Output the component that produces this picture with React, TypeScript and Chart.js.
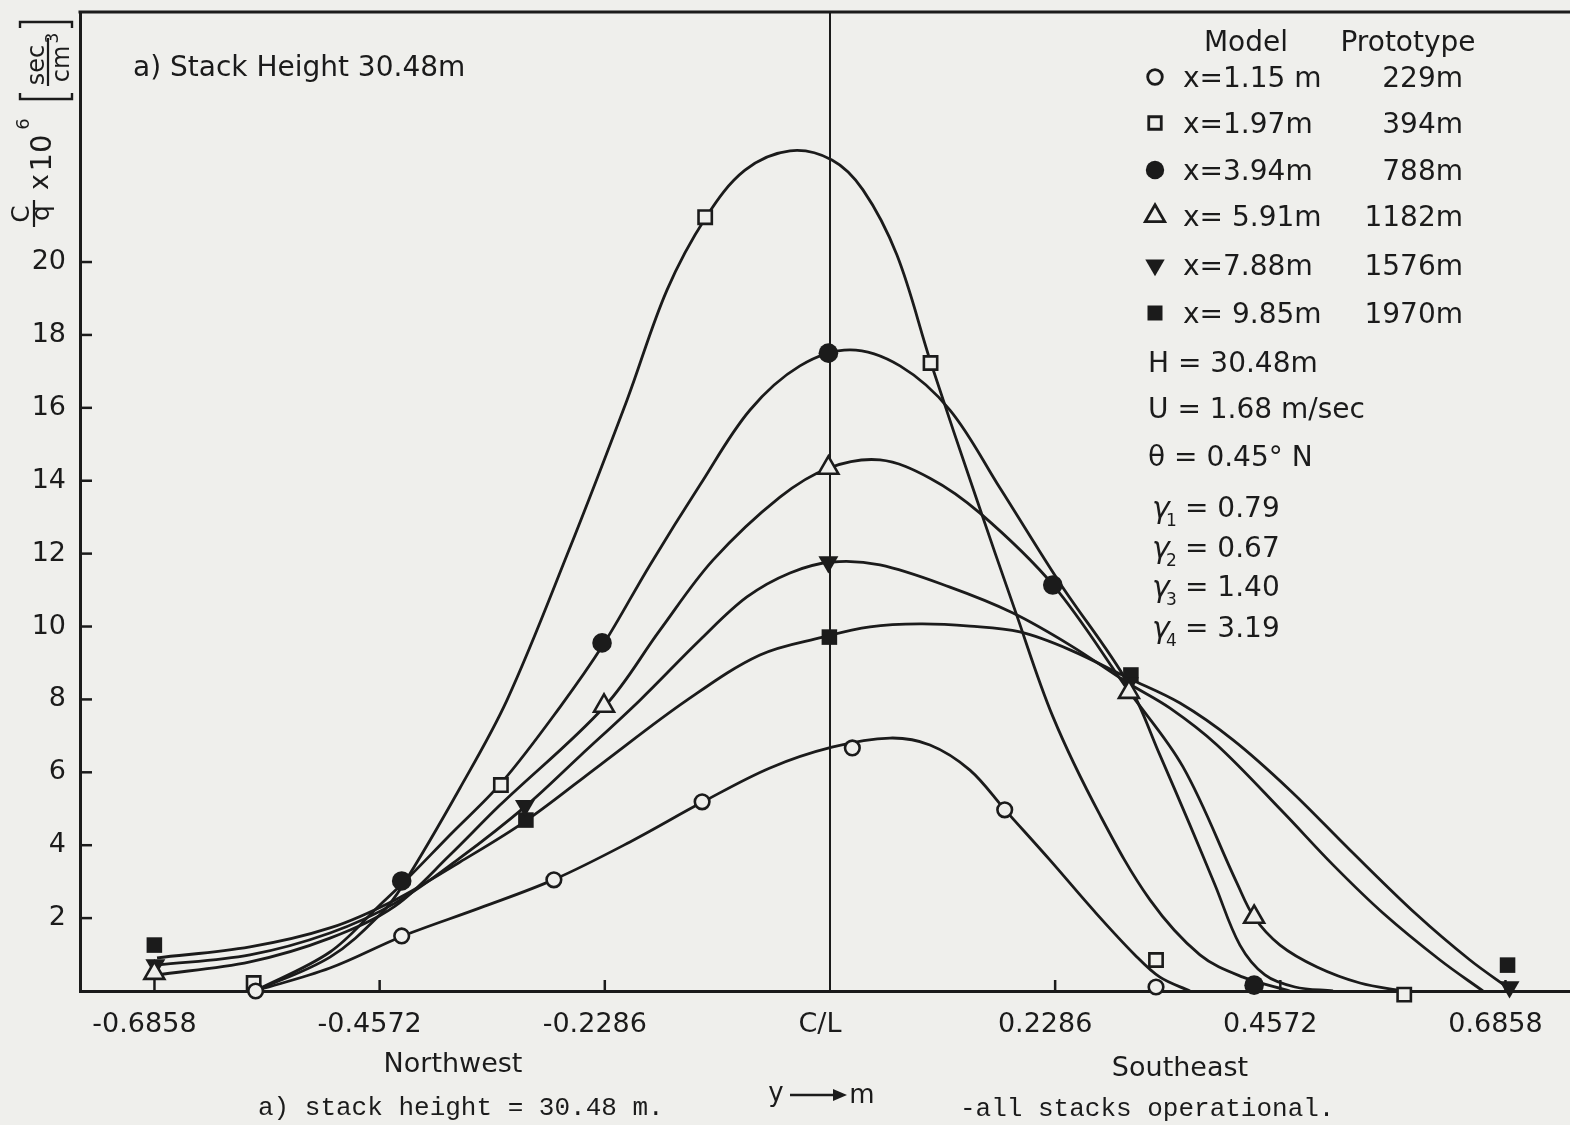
import React, { useEffect, useRef } from 'react';
import { Chart, registerables } from 'chart.js';

Chart.register(...registerables);

const INK = '#1b1b1b';
const PAPER = '#efefec';
const SANS = '"DejaVu Sans", sans-serif';
const MONO = '"Liberation Mono", monospace';

// ---- axes ----
const X_MIN = -0.7614;
const X_MAX = 0.7513;
const Y_MIN = 0;
const Y_MAX = 26.86;
const xTickValues = [-0.6858, -0.4572, -0.2286, 0, 0.2286, 0.4572, 0.6858];
const xTickLabels = ['-0.6858', '-0.4572', '-0.2286', 'C/L', '0.2286', '0.4572', '0.6858'];
const yTickValues = [2, 4, 6, 8, 10, 12, 14, 16, 18, 20];

// ---- legend text ----
const modelLabels = ['x=1.15 m', 'x=1.97m', 'x=3.94m', 'x= 5.91m', 'x=7.88m', 'x= 9.85m'];
const prototypeLabels = ['229m', '394m', '788m', '1182m', '1576m', '1970m'];
const parameterLines = ['H = 30.48m', 'U = 1.68 m/sec', 'θ = 0.45° N'];
const gammaSubs = ['1', '2', '3', '4'];
const gammaValues = ['0.79', '0.67', '1.40', '3.19'];

// ---- measured points (markers) ----
const m115X = [-0.5831, -0.4348, -0.2803, -0.1298, 0.0227, 0.1774, 0.331];
const m115Y = [0.0, 1.51, 3.05, 5.19, 6.67, 4.97, 0.11];
const m197X = [-0.5851, -0.3341, -0.1267, 0.1021, 0.331, 0.583];
const m197Y = [0.22, 5.65, 21.23, 17.23, 0.85, -0.1];
const m394X = [-0.4348, -0.2314, -0.0016, 0.2262, 0.4306];
const m394Y = [3.02, 9.55, 17.5, 11.14, 0.16];
const m591X = [-0.6859, -0.2294, -0.0016, 0.3035, 0.4306];
const m591Y = [0.49, 7.82, 14.35, 8.2, 2.03];
const m788X = [-0.6849, -0.3097, -0.0016, 0.3035, 0.6899];
const m788Y = [0.71, 5.08, 11.77, 8.45, 0.11];
const m985X = [-0.6859, -0.3087, -0.0006, 0.3055, 0.6879];
const m985Y = [1.26, 4.69, 9.71, 8.67, 0.71];

// ---- faired curves ----
const c115X = [-0.5838, -0.5076, -0.4335, -0.3553, -0.2792, -0.203, -0.1289, -0.0609, 0.002, 0.0609, 0.1015, 0.1421, 0.1777, 0.2234, 0.269, 0.3096, 0.335, 0.3655];
const c115Y = [0, 0.63, 1.51, 2.28, 3.07, 4.09, 5.19, 6.12, 6.69, 6.94, 6.75, 6.06, 4.97, 3.59, 2.17, 0.99, 0.38, 0];
const c197X = [-0.5838, -0.5076, -0.4569, -0.4335, -0.3756, -0.3279, -0.267, -0.2061, -0.1655, -0.1259, -0.0863, -0.0406, 0.002, 0.0335, 0.068, 0.1025, 0.1492, 0.1878, 0.2264, 0.2741, 0.3249, 0.3756, 0.4193, 0.467];
const c197Y = [0, 0.93, 2.09, 2.91, 5.57, 7.98, 11.96, 16.21, 19.23, 21.23, 22.52, 23.05, 22.8, 21.98, 20.19, 17.23, 13.47, 10.45, 7.52, 4.83, 2.5, 0.99, 0.38, 0];
const c394X = [-0.5838, -0.5076, -0.4569, -0.4335, -0.3858, -0.333, -0.2741, -0.2305, -0.1827, -0.132, -0.0812, -0.0305, 0.0203, 0.0711, 0.1218, 0.1726, 0.2335, 0.3025, 0.335, 0.3655, 0.3909, 0.4162, 0.4416, 0.4721, 0.5107];
const c394Y = [0, 1.07, 2.36, 2.96, 4.28, 5.73, 7.79, 9.49, 11.69, 13.88, 15.94, 17.15, 17.59, 17.15, 15.94, 13.8, 11.19, 8.45, 6.47, 4.55, 2.91, 1.26, 0.44, 0.11, 0];
const c591X = [-0.6843, -0.5888, -0.5076, -0.4416, -0.3858, -0.335, -0.2284, -0.1726, -0.1188, -0.0508, -0.001, 0.0508, 0.1015, 0.1523, 0.2264, 0.3025, 0.3584, 0.4132, 0.4305, 0.4569, 0.4944, 0.5381, 0.5817];
const c591Y = [0.44, 0.8, 1.45, 2.33, 3.73, 5.1, 7.82, 9.9, 11.82, 13.55, 14.35, 14.57, 14.07, 13.11, 11.14, 8.26, 6.15, 2.96, 2.03, 1.26, 0.66, 0.22, 0];
const c788X = [-0.6832, -0.5888, -0.5076, -0.4416, -0.3756, -0.3086, -0.2538, -0.1929, -0.132, -0.0843, -0.0406, 0.002, 0.0508, 0.1218, 0.1858, 0.2437, 0.3025, 0.3452, 0.3929, 0.4599, 0.5107, 0.5614, 0.6193, 0.6629];
const c788Y = [0.71, 0.99, 1.59, 2.41, 3.65, 5.08, 6.45, 7.98, 9.63, 10.81, 11.47, 11.77, 11.69, 11.08, 10.37, 9.49, 8.45, 7.76, 6.75, 4.91, 3.46, 2.14, 0.85, 0];
const c985X = [-0.6832, -0.5888, -0.5076, -0.4416, -0.3756, -0.3076, -0.2335, -0.1452, -0.0711, -0.0071, 0.0406, 0.0914, 0.1421, 0.1929, 0.2437, 0.3025, 0.3553, 0.4091, 0.467, 0.5279, 0.5959, 0.6497, 0.6904];
const c985Y = [0.91, 1.21, 1.73, 2.5, 3.54, 4.69, 6.2, 7.98, 9.22, 9.71, 9.99, 10.07, 10.01, 9.85, 9.36, 8.59, 7.9, 6.89, 5.51, 3.87, 2.09, 0.85, 0.05];

type Kind = 'circleOpen' | 'squareOpen' | 'circleFilled' | 'triangleOpen' | 'triangleDownFilled' | 'squareFilled';
const kinds: Kind[] = ['circleOpen', 'squareOpen', 'circleFilled', 'triangleOpen', 'triangleDownFilled', 'squareFilled'];
const markerXs = [m115X, m197X, m394X, m591X, m788X, m985X];
const markerYs = [m115Y, m197Y, m394Y, m591Y, m788Y, m985Y];
const curveXs = [c115X, c197X, c394X, c591X, c788X, c985X];
const curveYs = [c115Y, c197Y, c394Y, c591Y, c788Y, c985Y];

const pts = (xs: number[], ys: number[]) => xs.map((x, i) => ({ x, y: ys[i] }));

const styleFor = (k: Kind) => {
  switch (k) {
    case 'circleOpen': return { pointStyle: 'circle', pointRadius: 7.3, pointBackgroundColor: PAPER, pointBorderWidth: 2.6, pointRotation: 0 };
    case 'squareOpen': return { pointStyle: 'rect', pointRadius: 9.4, pointBackgroundColor: PAPER, pointBorderWidth: 2.6, pointRotation: 0 };
    case 'circleFilled': return { pointStyle: 'circle', pointRadius: 9.8, pointBackgroundColor: INK, pointBorderWidth: 0, pointRotation: 0 };
    case 'triangleOpen': return { pointStyle: 'triangle', pointRadius: 11.5, pointBackgroundColor: PAPER, pointBorderWidth: 2.6, pointRotation: 0 };
    case 'triangleDownFilled': return { pointStyle: 'triangle', pointRadius: 11.5, pointBackgroundColor: INK, pointBorderWidth: 0, pointRotation: 180 };
    default: return { pointStyle: 'rect', pointRadius: 11, pointBackgroundColor: INK, pointBorderWidth: 0, pointRotation: 0 };
  }
};

function drawMarker(ctx: CanvasRenderingContext2D, k: Kind, x: number, y: number) {
  ctx.save();
  ctx.lineWidth = 2.8;
  ctx.strokeStyle = INK;
  ctx.beginPath();
  if (k === 'circleOpen' || k === 'circleFilled') {
    ctx.arc(x, y, k === 'circleOpen' ? 7.3 : 9.2, 0, Math.PI * 2);
  } else if (k === 'squareOpen' || k === 'squareFilled') {
    const s = k === 'squareOpen' ? 12.5 : 15;
    ctx.rect(x - s / 2, y - s / 2, s, s);
  } else {
    const r = 11.2;
    const dir = k === 'triangleOpen' ? 1 : -1;
    for (let i = 0; i < 3; i++) {
      const a = (i * 2 * Math.PI) / 3;
      const px = x + Math.sin(a) * r;
      const py = y - dir * Math.cos(a) * r;
      if (i === 0) ctx.moveTo(px, py); else ctx.lineTo(px, py);
    }
    ctx.closePath();
  }
  if (k === 'circleOpen' || k === 'squareOpen' || k === 'triangleOpen') {
    ctx.fillStyle = PAPER;
    ctx.fill();
    ctx.stroke();
  } else {
    ctx.fillStyle = INK;
    ctx.fill();
  }
  ctx.restore();
}

function text(ctx: CanvasRenderingContext2D, s: string, x: number, yc: number, size: number, align: CanvasTextAlign = 'left', family = SANS, style = '') {
  ctx.font = `${style}${size}px ${family}`;
  ctx.textAlign = align;
  ctx.textBaseline = 'alphabetic';
  ctx.fillText(s, x, yc + size * 0.36);
}

function drawYTitle(ctx: CanvasRenderingContext2D) {
  ctx.save();
  ctx.translate(0, 250);
  ctx.rotate(-Math.PI / 2);
  ctx.fillStyle = INK;
  ctx.strokeStyle = INK;
  ctx.textAlign = 'center';
  ctx.textBaseline = 'alphabetic';
  ctx.font = `25px ${SANS}`;
  ctx.fillText('C', 36, 29);
  ctx.fillText('q', 37, 49);
  ctx.lineWidth = 2.2;
  ctx.beginPath(); ctx.moveTo(23, 34); ctx.lineTo(50, 34); ctx.stroke();
  ctx.font = `27px ${SANS}`;
  ctx.fillText('x', 68, 48);
  ctx.font = `29px ${SANS}`;
  ctx.fillText('10', 97, 51);
  ctx.font = `18px ${SANS}`;
  ctx.fillText('6', 126, 29);
  ctx.lineWidth = 2.4;
  ctx.beginPath(); ctx.moveTo(157, 20); ctx.lineTo(151, 20); ctx.lineTo(151, 72); ctx.lineTo(157, 72); ctx.stroke();
  ctx.font = `24px ${SANS}`;
  ctx.fillText('sec', 185, 44);
  ctx.lineWidth = 2.2;
  ctx.beginPath(); ctx.moveTo(164, 48); ctx.lineTo(212, 48); ctx.stroke();
  ctx.fillText('cm', 186, 69);
  ctx.font = `17px ${SANS}`;
  ctx.fillText('3', 212, 58);
  ctx.lineWidth = 2.4;
  ctx.beginPath(); ctx.moveTo(222, 20); ctx.lineTo(228, 20); ctx.lineTo(228, 72); ctx.lineTo(222, 72); ctx.stroke();
  ctx.restore();
}

const decorPlugin = {
  id: 'decor',
  beforeDraw(chart: any) {
    const { ctx, width, height } = chart;
    ctx.save();
    ctx.fillStyle = PAPER;
    ctx.fillRect(0, 0, width, height);
    ctx.restore();
  },
  beforeDatasetsDraw(chart: any) {
    const { ctx, chartArea: a, scales } = chart;
    ctx.save();
    ctx.strokeStyle = INK;
    ctx.lineWidth = 3;
    ctx.beginPath(); ctx.moveTo(a.left - 1.5, a.top); ctx.lineTo(a.right, a.top); ctx.stroke();
    ctx.lineWidth = 2.5;
    xTickValues.forEach((v) => {
      if (v === 0) return;
      const px = scales.x.getPixelForValue(v);
      ctx.beginPath(); ctx.moveTo(px, a.bottom); ctx.lineTo(px, a.bottom - 11); ctx.stroke();
    });
    yTickValues.forEach((v) => {
      const py = scales.y.getPixelForValue(v);
      ctx.beginPath(); ctx.moveTo(a.left, py); ctx.lineTo(a.left + 12, py); ctx.stroke();
    });
    ctx.restore();
  },
  afterDraw(chart: any) {
    const { ctx } = chart;
    ctx.save();
    ctx.fillStyle = INK;
    ctx.strokeStyle = INK;
    text(ctx, 'a) Stack Height 30.48m', 133, 66, 28);
    text(ctx, 'Model', 1246, 41, 28, 'center');
    text(ctx, 'Prototype', 1408, 41, 28, 'center');
    const rowY = [77, 123, 170, 216, 265, 313];
    kinds.forEach((k, i) => {
      drawMarker(ctx, k, 1155, rowY[i]);
      ctx.fillStyle = INK;
      text(ctx, modelLabels[i], 1183, rowY[i], 28);
      text(ctx, prototypeLabels[i], 1463, rowY[i], 28, 'right');
    });
    const paramY = [362, 408, 456];
    parameterLines.forEach((s, i) => text(ctx, s, 1148, paramY[i], 28));
    const gY = [507, 547, 586, 627];
    gammaValues.forEach((v, i) => {
      text(ctx, 'γ', 1152, gY[i], 30, 'left', SANS, 'italic ');
      text(ctx, gammaSubs[i], 1166, gY[i] + 13, 17, 'left');
      text(ctx, '= ' + v, 1185, gY[i], 28);
    });
    text(ctx, 'Northwest', 453, 1062, 27, 'center');
    text(ctx, 'Southeast', 1180, 1066, 27, 'center');
    text(ctx, 'y', 776, 1092, 26, 'center');
    text(ctx, 'm', 862, 1094, 26, 'center');
    ctx.lineWidth = 2.5;
    ctx.beginPath(); ctx.moveTo(790, 1095); ctx.lineTo(836, 1095); ctx.stroke();
    ctx.beginPath(); ctx.moveTo(847, 1095); ctx.lineTo(833, 1089); ctx.lineTo(833, 1101); ctx.closePath(); ctx.fill();
    text(ctx, 'a) stack height = 30.48 m.', 258, 1106, 26, 'left', MONO);
    text(ctx, '-all stacks operational.', 960, 1107, 26, 'left', MONO);
    drawYTitle(ctx);
    ctx.restore();
  },
};

export default function App() {
  const ref = useRef<HTMLCanvasElement | null>(null);
  useEffect(() => {
    if (!ref.current) return;
    const curveSets = curveXs.map((xs, i) => ({
      type: 'line' as const,
      label: 'curve ' + modelLabels[i],
      data: pts(xs, curveYs[i]),
      borderColor: INK,
      borderWidth: 2.8,
      pointRadius: 0,
      fill: false,
      tension: 0.35,
      order: 2,
    }));
    const markerSets = markerXs.map((xs, i) => {
      const st = styleFor(kinds[i]);
      return {
        type: 'line' as const,
        label: modelLabels[i],
        data: pts(xs, markerYs[i]),
        showLine: false,
        pointBorderColor: INK,
        ...st,
        clip: false as any,
        order: 1,
      };
    });
    const chart = new Chart(ref.current, {
      type: 'line',
      data: { datasets: [...curveSets, ...markerSets] as any },
      options: {
        animation: false,
        responsive: false,
        maintainAspectRatio: false,
        layout: { autoPadding: false, padding: { top: 12, left: 0, right: 0, bottom: 0 } },
        plugins: { legend: { display: false }, tooltip: { enabled: false }, title: { display: false } },
        scales: {
          x: {
            type: 'linear',
            min: X_MIN,
            max: X_MAX,
            afterBuildTicks: (s: any) => { s.ticks = xTickValues.map((v) => ({ value: v })); },
            afterFit: (s: any) => { s.height = 134; s.paddingLeft = 0; s.paddingRight = 0; },
            ticks: {
              autoSkip: false,
              maxRotation: 0,
              padding: 18,
              labelOffset: -10,
              color: INK,
              font: { family: SANS, size: 27 },
              callback: (v: any) => {
                const i = xTickValues.findIndex((t) => Math.abs(t - Number(v)) < 1e-6);
                return i >= 0 ? xTickLabels[i] : '';
              },
            },
            grid: {
              display: true,
              drawTicks: false,
              lineWidth: 2,
              color: (c: any) => (c.tick && Math.abs(c.tick.value) < 1e-9 ? INK : 'rgba(0,0,0,0)'),
            },
            border: { display: true, color: INK, width: 3 },
          },
          y: {
            type: 'linear',
            min: Y_MIN,
            max: Y_MAX,
            afterBuildTicks: (s: any) => { s.ticks = yTickValues.map((v) => ({ value: v })); },
            afterFit: (s: any) => { s.width = 80; s.paddingTop = 0; s.paddingBottom = 0; },
            ticks: { padding: 14, color: INK, font: { family: SANS, size: 27 }, callback: (v: any) => String(v) },
            grid: { display: false, drawTicks: false },
            border: { display: true, color: INK, width: 3 },
          },
        },
      },
      plugins: [decorPlugin],
    });
    return () => chart.destroy();
  }, []);
  return (
    <div style={{ position: 'absolute', left: 0, top: 0, width: 1570, height: 1125 }}>
      <canvas ref={ref} width={1570} height={1125} style={{ display: 'block', width: 1570, height: 1125 }} />
    </div>
  );
}
